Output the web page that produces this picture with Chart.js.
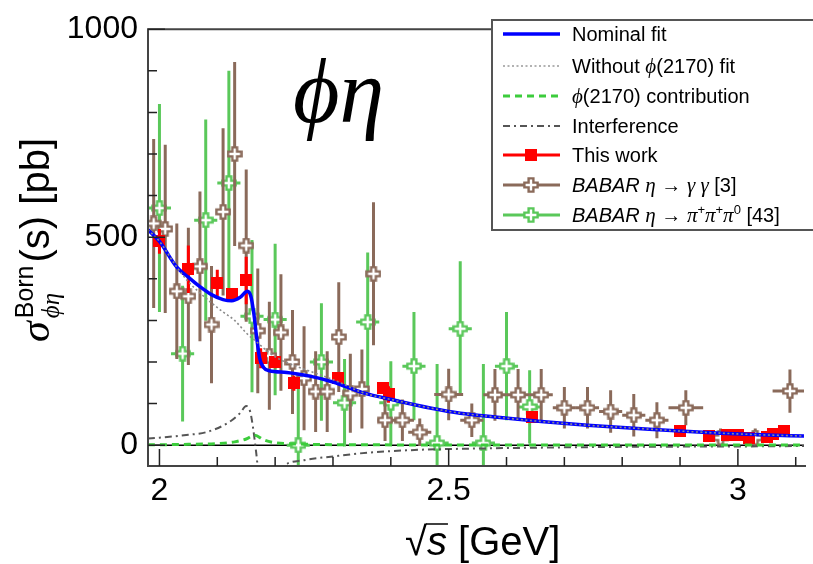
<!DOCTYPE html>
<html><head><meta charset="utf-8">
<script src="https://cdn.jsdelivr.net/npm/chart.js@4.4.0/dist/chart.umd.min.js"></script>
<style>html,body{margin:0;padding:0;background:#fff}#wrap{width:813px;height:564px}</style>
</head><body><div id="wrap"><canvas id="c" width="813" height="564"></canvas></div>
<script>
// ---------- data ----------
const xTickLabels = [2, 2.5, 3];
const yTickLabels = [0, 500, 1000];

const fitX = [1.98, 2.00, 2.03, 2.05, 2.07, 2.09, 2.11, 2.125, 2.14, 2.152, 2.158, 2.163, 2.168, 2.173, 2.18, 2.19, 2.22, 2.26, 2.30, 2.35, 2.41, 2.47, 2.52, 2.58, 2.66, 2.74, 2.82, 2.90, 2.97, 3.04, 3.115];
const fitY = [518, 490, 428, 404, 381, 362, 350, 347, 356, 370, 358, 318, 260, 210, 187, 179, 175, 166, 152, 127, 107, 89, 77, 68, 57, 48, 41, 34, 29, 25, 22];

const noPhiX = [1.98, 2.00, 2.03, 2.05, 2.07, 2.09, 2.11, 2.13, 2.15, 2.17, 2.19, 2.21, 2.24, 2.28, 2.31, 2.35, 2.41, 2.47, 2.52, 2.58, 2.66, 2.74, 2.82, 2.90, 2.97, 3.04, 3.115];
const noPhiY = [518, 490, 428, 393, 366, 342, 320, 300, 270, 246, 222, 205, 188, 168, 152, 127, 107, 89, 77, 68, 57, 48, 41, 34, 29, 25, 22];

const contribX = [1.98, 2.05, 2.10, 2.13, 2.15, 2.165, 2.18, 2.20, 2.25, 2.35, 2.60, 3.115];
const contribY = [1, 2, 4, 8, 15, 24, 13, 6, 2.5, 1, 0.5, 0.3];

const interfX = [1.98, 2.00, 2.05, 2.08, 2.12, 2.14, 2.15, 2.157, 2.162, 2.167, 2.172, 2.185, 2.20, 2.215, 2.25, 2.30, 2.36, 2.45, 2.55, 2.65, 2.80, 3.00, 3.115];
const interfY = [16, 18, 25, 31, 55, 78, 94, 80, 40, -15, -75, -110, -80, -50, -36, -27, -18, -11, -8, -6, -4, -3, -2];

const thisWorkX = [2.0, 2.05, 2.10, 2.125, 2.15, 2.175, 2.20, 2.2324, 2.3094, 2.3864, 2.396, 2.6444, 2.90, 2.95, 2.981, 3.00, 3.02, 3.05, 3.06, 3.08];
const thisWorkY = [490, 423, 390, 363, 396, 209, 200, 149, 161, 137, 122, 68, 35, 21, 24, 24, 17, 20, 27, 33];
const thisWorkErr = [30, 57, 32, 15, 57, 24, 15, 18, 12, 12, 20, 8, 5, 5, 4, 4, 5, 5, 5, 5];

const ggX = [1.99, 2.01, 2.03, 2.05, 2.07, 2.09, 2.11, 2.13, 2.15, 2.17, 2.19, 2.21, 2.23, 2.25, 2.27, 2.29, 2.31, 2.33, 2.35, 2.37, 2.39, 2.42, 2.45, 2.50, 2.54, 2.58, 2.62, 2.66, 2.70, 2.74, 2.78, 2.82, 2.86, 2.91, 2.97, 3.03, 3.09];
const ggY = [533, 520, 370, 358, 430, 290, 561, 700, 480, 275, 215, 271, 200, 161, 129, 129, 260, 125, 135, 412, 60, 60, 31, 122, 60, 121, 121, 121, 90, 90, 81, 72, 60, 90, 18, 18, 130];
const ggErr = [203, 202, 163, 165, 180, 141, 201, 221, 183, 150, 130, 140, 125, 125, 97, 97, 132, 95, 95, 172, 50, 50, 33, 62, 40, 62, 62, 62, 50, 50, 51, 51, 43, 42, 22, 22, 52];
const ggXErr = [0.01, 0.01, 0.01, 0.01, 0.01, 0.01, 0.01, 0.01, 0.01, 0.01, 0.01, 0.01, 0.01, 0.01, 0.01, 0.01, 0.01, 0.01, 0.01, 0.01, 0.013, 0.02, 0.02, 0.025, 0.02, 0.02, 0.02, 0.02, 0.02, 0.02, 0.02, 0.02, 0.02, 0.03, 0.03, 0.03, 0.03];

const pipX = [2.00, 2.04, 2.08, 2.12, 2.16, 2.20, 2.24, 2.28, 2.32, 2.36, 2.40, 2.44, 2.48, 2.52, 2.56, 2.60, 2.64];
const pipY = [570, 220, 541, 630, 310, 302, 0, 200, 102, 296, 102, 190, 5, 280, 5, 190, 92];
const pipErr = [250, 163, 242, 270, 183, 182, 160, 141, 105, 167, 100, 130, 190, 162, 190, 130, 88];
const pipXErr = [0.02, 0.02, 0.02, 0.02, 0.02, 0.02, 0.02, 0.02, 0.02, 0.02, 0.02, 0.02, 0.02, 0.02, 0.02, 0.02, 0.02];

// ---------- styles ----------
const BLUE = '#0000ff', RED = '#ff0000', BROWN = '#8a6a5a', GREEN = '#5ac85a';
const pts = (xs, ys) => xs.map((x, i) => ({x: x, y: ys[i]}));

function crossMarker(color) {
  const c = document.createElement('canvas'); c.width = 16; c.height = 16;
  const g = c.getContext('2d'); const a = 2.4, r = 6.6, cx = 8, cy = 8;
  g.beginPath();
  g.moveTo(cx - a, cy - r); g.lineTo(cx + a, cy - r); g.lineTo(cx + a, cy - a); g.lineTo(cx + r, cy - a);
  g.lineTo(cx + r, cy + a); g.lineTo(cx + a, cy + a); g.lineTo(cx + a, cy + r); g.lineTo(cx - a, cy + r);
  g.lineTo(cx - a, cy + a); g.lineTo(cx - r, cy + a); g.lineTo(cx - r, cy - a); g.lineTo(cx - a, cy - a);
  g.closePath(); g.fillStyle = '#fff'; g.fill(); g.lineWidth = 2.4; g.strokeStyle = color; g.stroke();
  return c;
}
function squareMarker(color) {
  const c = document.createElement('canvas'); c.width = 12; c.height = 12;
  const g = c.getContext('2d'); g.fillStyle = color; g.fillRect(0, 0, 12, 12);
  return c;
}
const ggMarker = crossMarker(BROWN), pipMarker = crossMarker(GREEN), redMarker = squareMarker(RED);

const errPlugin = {
  id: 'errbars',
  beforeDatasetDraw(chart, args) {
    const ds = chart.data.datasets[args.index];
    if (!ds.errY) return;
    const xs = chart.scales.x, ys = chart.scales.y, ctx = chart.ctx, a = chart.chartArea;
    ctx.save();
    ctx.beginPath(); ctx.rect(a.left, a.top, a.right - a.left, a.bottom - a.top); ctx.clip();
    ctx.strokeStyle = ds.errColor; ctx.lineWidth = 3; ctx.lineCap = 'butt';
    ds.data.forEach((p, i) => {
      const px = xs.getPixelForValue(p.x), py = ys.getPixelForValue(p.y);
      const e = ds.errY[i];
      ctx.beginPath();
      ctx.moveTo(px, ys.getPixelForValue(p.y - e)); ctx.lineTo(px, ys.getPixelForValue(p.y + e));
      const ex = ds.errX ? ds.errX[i] : 0;
      if (ex) { ctx.moveTo(xs.getPixelForValue(p.x - ex), py); ctx.lineTo(xs.getPixelForValue(p.x + ex), py); }
      ctx.stroke();
    });
    ctx.restore();
  }
};

const zeroPlugin = {
  id: 'zeroline',
  beforeDatasetsDraw(chart) {
    const ctx = chart.ctx, a = chart.chartArea, y0 = chart.scales.y.getPixelForValue(0);
    ctx.save(); ctx.strokeStyle = '#000'; ctx.lineWidth = 1.5;
    ctx.beginPath(); ctx.moveTo(a.left, y0); ctx.lineTo(a.right, y0); ctx.stroke(); ctx.restore();
  }
};

const framePlugin = {
  id: 'frame',
  afterDatasetsDraw(chart) {
    const ctx = chart.ctx, a = chart.chartArea, xs = chart.scales.x, ys = chart.scales.y;
    ctx.save();
    ctx.strokeStyle = '#444'; ctx.lineWidth = 2;
    ctx.beginPath();
    ctx.moveTo(a.right + 2, a.top); ctx.lineTo(a.left, a.top); ctx.lineTo(a.left, a.bottom); ctx.lineTo(a.right + 2, a.bottom);
    ctx.stroke();
    ctx.lineWidth = 1.5; ctx.strokeStyle = '#222';
    ctx.beginPath();
    for (let k = 20; k <= 31; k++) {
      const v = k / 10, px = xs.getPixelForValue(v);
      const len = (k % 5 === 0) ? 17 : 9;
      ctx.moveTo(px, a.bottom); ctx.lineTo(px, a.bottom - len);
    }
    for (let k = 0; k <= 10; k++) {
      const py = ys.getPixelForValue(k * 100);
      const len = (k % 5 === 0) ? 17 : 9;
      ctx.moveTo(a.left, py); ctx.lineTo(a.left + len, py);
    }
    ctx.stroke();
    ctx.restore();
  }
};

function drawRuns(ctx, x, y, runs) {
  for (const r of runs) {
    ctx.font = r[1];
    ctx.fillText(r[0], x, y + (r[2] || 0));
    x += ctx.measureText(r[0]).width;
  }
  return x;
}

const SANS = '20px "Liberation Sans", Arial, sans-serif';
const ITAL = 'italic 20px "Liberation Sans", Arial, sans-serif';
const GRK = 'italic 21px "Liberation Serif", serif';
const SUP = '13px "Liberation Sans", Arial, sans-serif';

const textPlugin = {
  id: 'texts',
  afterDraw(chart) {
    const ctx = chart.ctx;
    ctx.save();
    ctx.fillStyle = '#000'; ctx.textAlign = 'left'; ctx.textBaseline = 'alphabetic';
    // big phi eta label
    ctx.font = 'italic 90px "Liberation Serif", serif';
    ctx.fillText('ϕη', 293, 122);

    // legend box
    ctx.fillStyle = '#fff'; ctx.fillRect(492, 20, 330, 210);
    ctx.strokeStyle = '#555'; ctx.lineWidth = 2; ctx.strokeRect(492, 20, 330, 210);
    const rows = [34, 66, 96, 126, 155, 185, 215];
    const lx0 = 503, lx1 = 560, tx = 572;
    const line = (y, color, w, dash) => {
      ctx.save(); ctx.strokeStyle = color; ctx.lineWidth = w; ctx.setLineDash(dash);
      ctx.beginPath(); ctx.moveTo(lx0, y); ctx.lineTo(lx1, y); ctx.stroke(); ctx.restore();
    };
    line(rows[0], BLUE, 3.5, []);
    line(rows[1], '#999', 1.5, [2, 2.5]);
    line(rows[2], '#3ccc3c', 3, [7, 5]);
    line(rows[3], '#555', 2, [7, 4, 2, 4]);
    line(rows[4], RED, 3, []);
    ctx.drawImage(redMarker, 531 - 6, rows[4] - 6);
    line(rows[5], BROWN, 3, []);
    ctx.drawImage(ggMarker, 531 - 8, rows[5] - 8);
    line(rows[6], GREEN, 3, []);
    ctx.drawImage(pipMarker, 531 - 8, rows[6] - 8);

    ctx.fillStyle = '#000';
    const legendTexts = [
      [['Nominal fit', SANS]],
      [['Without ', SANS], ['ϕ', GRK], ['(2170) fit', SANS]],
      [['ϕ', GRK], ['(2170) contribution', SANS]],
      [['Interference', SANS]],
      [['This work', SANS]],
      [['BABAR', ITAL], [' ', SANS], ['η', GRK], [' → ', SANS], ['γ γ', GRK], [' [3]', SANS]],
      [['BABAR', ITAL], [' ', SANS], ['η', GRK], [' → ', SANS], ['π', GRK], ['+', SUP, -8], ['π', GRK], ['+', SUP, -8], ['π', GRK], ['0', SUP, -8], [' [43]', SANS]]
    ];
    legendTexts.forEach((runs, i) => drawRuns(ctx, tx, rows[i] + 7, runs));

    // x-axis title
    ctx.font = '40px "Liberation Sans", Arial, sans-serif';
    ctx.fillText('√', 405, 555);
    const sqw = ctx.measureText('√').width;
    ctx.font = 'italic 40px "Liberation Sans", Arial, sans-serif';
    const sx = 405 + sqw;
    ctx.fillText('s', sx, 555);
    const sw = ctx.measureText('s').width;
    ctx.strokeStyle = '#000'; ctx.lineWidth = 1.5;
    ctx.beginPath(); ctx.moveTo(sx - 1, 524); ctx.lineTo(sx + sw + 1, 524); ctx.stroke();
    ctx.font = '40px "Liberation Sans", Arial, sans-serif';
    ctx.fillText(' [GeV]', sx + sw, 555);

    // y-axis title
    ctx.save();
    ctx.translate(49, 342); ctx.rotate(-Math.PI / 2);
    ctx.font = 'italic 42px "Liberation Serif", serif';
    ctx.fillText('σ', 0, 0);
    const sgw = ctx.measureText('σ').width;
    ctx.font = '25px "Liberation Sans", Arial, sans-serif';
    ctx.fillText('Born', sgw + 3, -16);
    const bw = ctx.measureText('Born').width;
    ctx.font = 'italic 25px "Liberation Serif", serif';
    ctx.fillText('ϕη', sgw + 3, 10);
    ctx.font = '40px "Liberation Sans", Arial, sans-serif';
    ctx.fillText('(s) [pb]', sgw + 3 + bw + 3, 0);
    ctx.restore();

    ctx.restore();
  }
};

new Chart(document.getElementById('c'), {
  type: 'scatter',
  data: {
    datasets: [
      {label: 'Without phi(2170) fit', data: pts(noPhiX, noPhiY), showLine: true, borderColor: '#8a8a8a', borderWidth: 1.6, borderDash: [2, 2.5], pointRadius: 0, cubicInterpolationMode: 'monotone', order: 0, clip: 0},
      {label: 'phi(2170) contribution', data: pts(contribX, contribY), showLine: true, borderColor: '#3ccc3c', borderWidth: 3, borderDash: [7, 5], pointRadius: 0, cubicInterpolationMode: 'monotone', order: 0, clip: 0},
      {label: 'Interference', data: pts(interfX, interfY), showLine: true, borderColor: '#555', borderWidth: 2, borderDash: [7, 4, 2, 4], pointRadius: 0, cubicInterpolationMode: 'monotone', order: 0, clip: 0},
      {label: 'Nominal fit', data: pts(fitX, fitY), showLine: true, borderColor: BLUE, borderWidth: 3.5, pointRadius: 0, cubicInterpolationMode: 'monotone', order: 1, clip: 0},
      {label: 'This work', data: pts(thisWorkX, thisWorkY), errY: thisWorkErr, errColor: RED, pointStyle: redMarker, pointRadius: 6, borderColor: RED, backgroundColor: RED, showLine: false, order: 2, clip: 0},
      {label: 'BABAR eta->gg', data: pts(ggX, ggY), errY: ggErr, errX: ggXErr, errColor: BROWN, pointStyle: ggMarker, pointRadius: 8, borderColor: BROWN, backgroundColor: '#fff', showLine: false, order: 3, clip: 0},
      {label: 'BABAR eta->3pi', data: pts(pipX, pipY), errY: pipErr, errX: pipXErr, errColor: GREEN, pointStyle: pipMarker, pointRadius: 8, borderColor: GREEN, backgroundColor: '#fff', showLine: false, order: 4, clip: 0}
    ]
  },
  options: {
    responsive: false, animation: false, devicePixelRatio: 1, events: [],
    layout: {padding: {top: 20, right: 0, left: 0, bottom: 0}},
    plugins: {legend: {display: false}, tooltip: {enabled: false}, title: {display: false}},
    scales: {
      x: {
        type: 'linear', min: 1.9802, max: 3.1143,
        afterFit: s => { s.height = 98; },
        afterBuildTicks: s => { s.ticks = xTickLabels.map(v => ({value: v})); },
        grid: {display: false, drawTicks: false}, border: {display: false},
        ticks: {autoSkip: false, maxRotation: 0, padding: 6, color: '#000', font: {family: '"Liberation Sans", Arial, sans-serif', size: 32}, callback: v => String(v)}
      },
      y: {
        type: 'linear', min: -50, max: 1000,
        afterFit: s => { s.width = 148; },
        afterBuildTicks: s => { s.ticks = yTickLabels.map(v => ({value: v})); },
        grid: {display: false, drawTicks: false}, border: {display: false},
        ticks: {autoSkip: false, padding: 10, color: '#000', font: {family: '"Liberation Sans", Arial, sans-serif', size: 32}, callback: v => String(v)}
      }
    }
  },
  plugins: [zeroPlugin, errPlugin, framePlugin, textPlugin]
});
</script>
</body></html>
